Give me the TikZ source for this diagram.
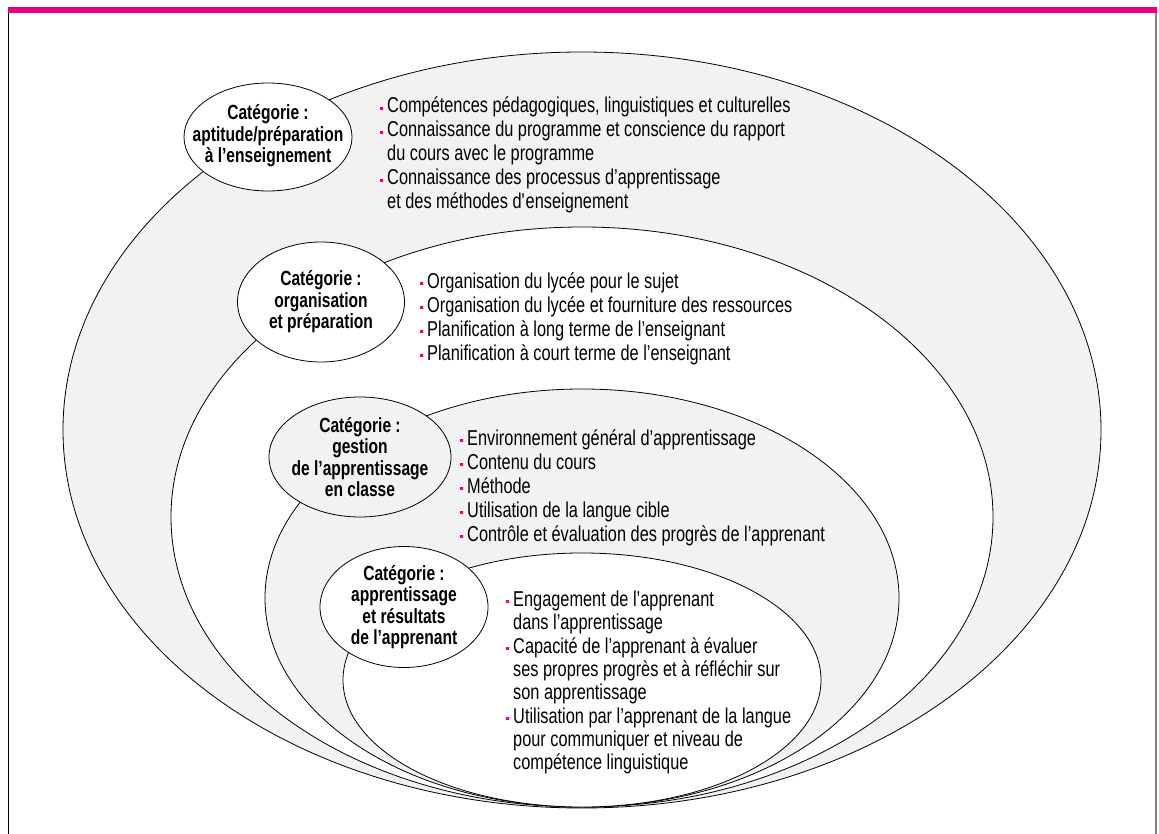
\documentclass[tikz,border=0pt]{standalone}
\usepackage{fontspec}
\setmainfont{Liberation Sans}[FakeStretch=0.76]
\usepackage{xcolor}
\usepackage{tikz}
\usetikzlibrary{shapes.geometric}
\definecolor{pinkbar}{HTML}{E6007E}
\definecolor{ringgray}{HTML}{F2F2F2}
\newcommand{\bul}{\strut\makebox[7pt][l]{\textcolor{pinkbar}{\rule[0.28ex]{3pt}{3pt}}}}
\newcommand{\ind}{\strut\hspace*{7pt}}

\begin{document}
\begin{tikzpicture}[x=1pt, y=-1pt,
    ring/.style={ellipse, draw, line width=0.8pt, inner sep=0pt},
    cat/.style={ellipse, draw, line width=0.8pt, inner sep=0pt,
        minimum width=168pt, minimum height=116pt, fill=white},
    cattext/.style={align=center, inner sep=0pt,
        font=\fontsize{20.5}{21.5}\selectfont\bfseries},
    items/.style={anchor=north west, align=left, inner sep=0pt,
        font=\fontsize{21.5}{24}\selectfont}
]
    \useasboundingbox (0,0) rectangle (1159,834);
    \draw[line width=6pt, pinkbar] (8,10) -- (1157,10);
    \draw[line width=1pt] (8,13) -- (8,834);
    \draw[line width=2pt, black!50] (1155.5,13) -- (1155.5,834);

    \node[ring, fill=ringgray, minimum width=1038pt, minimum height=756pt] (ring1) at (582,430) {};
    \node[ring, fill=white, minimum width=822pt, minimum height=580pt] (ring2) at (582,517) {};
    \node[ring, fill=ringgray, minimum width=634pt, minimum height=418pt] (ring3) at (582,598) {};
    \node[ring, fill=white, minimum width=478pt, minimum height=254pt] (ring4) at (582,680) {};

    \node[cat, minimum height=108pt] (cat1) at (268,137) {};
    \node[cat, minimum width=167pt, minimum height=120pt] (cat2) at (321,302) {};
    \node[cat, minimum width=182pt, minimum height=120pt, fill=ringgray] (cat3) at (360,457) {};
    \node[cat, minimum height=121pt] (cat4) at (404,607) {};

    \node[cattext] (cat1txt) at ([yshift=1pt]cat1.center) {Catégorie~:\\aptitude/préparation\\à l’enseignement};
    \node[cattext] (cat2txt) at (cat2.center) {Catégorie~:\\organisation\\et préparation};
    \node[cattext] (cat3txt) at (cat3.center) {Catégorie~:\\gestion\\de l’apprentissage\\en classe};
    \node[cattext] (cat4txt) at (cat4.center) {Catégorie~:\\apprentissage\\et résultats\\de l’apprenant};

    \node[items] (list1) at (380,96) {\bul Compétences pédagogiques, linguistiques et culturelles\\
        \bul Connaissance du programme et conscience du rapport\\
        \ind du cours avec le programme\\
        \bul Connaissance des processus d’apprentissage\\
        \ind et des méthodes d\textquotesingle enseignement};
    \node[items] (list2) at (420,271) {\bul Organisation du lycée pour le sujet\\
        \bul Organisation du lycée et fourniture des ressources\\
        \bul Planification à long terme de l’enseignant\\
        \bul Planification à court terme de l’enseignant};
    \node[items] (list3) at (460,428) {\bul Environnement général d’apprentissage\\
        \bul Contenu du cours\\
        \bul Méthode\\
        \bul Utilisation de la langue cible\\
        \bul Contrôle et évaluation des progrès de l’apprenant};
    \node[items, font=\fontsize{21.5}{23.3}\selectfont] (list4) at (506,590) {\bul Engagement de l’apprenant\\
        \ind dans l’apprentissage\\
        \bul Capacité de l’apprenant à évaluer\\
        \ind ses propres progrès et à réfléchir sur\\
        \ind son apprentissage\\
        \bul Utilisation par l’apprenant de la langue\\
        \ind pour communiquer et niveau de\\
        \ind compétence linguistique};
\end{tikzpicture}
\end{document}
